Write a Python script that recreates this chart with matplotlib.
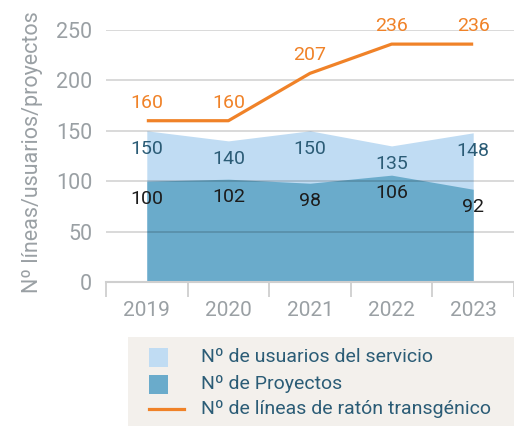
import matplotlib
matplotlib.use("Agg")
import matplotlib.pyplot as plt
from matplotlib.patches import Rectangle
from matplotlib.lines import Line2D
import numpy as np

years = ["2019", "2020", "2021", "2022", "2023"]
usuarios = [150, 140, 150, 135, 148]
proyectos = [100, 102, 98, 106, 92]
lineas = [160, 160, 207, 236, 236]

legend_labels = [
    "Nº de usuarios del servicio",
    "Nº de Proyectos",
    "Nº de líneas de ratón transgénico",
]

c_light = "#c0dcf3"
c_dark = "#6aabcb"
c_orange = "#f08228"
c_gray = "#9aa0a4"
c_teal = "#2b5c76"

plt.rcParams["font.family"] = ["Roboto", "DejaVu Sans"]

fig = plt.figure(figsize=(5.14, 4.26), dpi=100)
ax = fig.add_axes([106 / 514, 144 / 426, 408 / 514, 252 / 426])

x = np.arange(len(years))

ax.fill_between(x, 0, usuarios, color=c_light, lw=0, zorder=1)
ax.fill_between(x, 0, proyectos, color=c_dark, lw=0, zorder=2)
ax.plot(x, lineas, color=c_orange, lw=2.3, zorder=4, solid_capstyle="butt")

# horizontal grid on top of the areas, a little see-through
for v in [50, 100, 150, 200, 250]:
    ax.axhline(v, color="black", alpha=0.16, lw=1.3, zorder=3)

for i in range(len(years)):
    ax.annotate(str(lineas[i]), (x[i], lineas[i]), xytext=(0, 13),
                textcoords="offset points", ha="center", va="center",
                color=c_orange, fontsize=14, annotation_clip=False, zorder=5)
    ax.annotate(str(usuarios[i]), (x[i], usuarios[i]), xytext=(0, -13),
                textcoords="offset points", ha="center", va="center",
                color=c_teal, fontsize=14, zorder=5)
    ax.annotate(str(proyectos[i]), (x[i], proyectos[i]), xytext=(0, -13),
                textcoords="offset points", ha="center", va="center",
                color="#1c1c1c", fontsize=14, zorder=5)

ax.set_xlim(-0.5, 4.357)
ax.set_ylim(0, 250)

ax.set_yticks([0, 50, 100, 150, 200, 250])
ax.tick_params(axis="y", length=0, pad=10, labelsize=15.5, labelcolor=c_gray)

ax.set_xticks(x, labels=years)
ax.set_xticks(np.arange(-0.5, 4.6, 1), minor=True)
ax.tick_params(axis="x", which="major", length=0, pad=14, labelsize=15,
               labelcolor=c_gray)
ax.tick_params(axis="x", which="minor", length=11, width=1.3, color="#cfcfcf")

for s in ["top", "right", "left"]:
    ax.spines[s].set_visible(False)
ax.spines["bottom"].set_color("#cfcfcf")
ax.spines["bottom"].set_linewidth(1.5)
ax.spines["bottom"].set_zorder(6)

fig.text(33 / 514, 1 - 152 / 426, "Nº líneas/usuarios/proyectos", rotation=90,
         ha="center", va="center", color=c_gray, fontsize=15.5)

# legend panel
fig.patches.append(Rectangle((128 / 514, 0), 386 / 514, 89 / 426,
                             transform=fig.transFigure, facecolor="#f3f0ec",
                             edgecolor="none", zorder=0))
rows_y = [1 - 357 / 426, 1 - 384 / 426, 1 - 409 / 426]
for yy, col in zip(rows_y[:2], [c_light, c_dark]):
    fig.patches.append(Rectangle((149 / 514, yy - 9.5 / 426), 19 / 514, 19 / 426,
                                 transform=fig.transFigure, facecolor=col,
                                 edgecolor="none", zorder=1))
fig.lines.append(Line2D([149 / 514, 184 / 514], [rows_y[2], rows_y[2]],
                        transform=fig.transFigure, color=c_orange, lw=2.3))
for yy, lab in zip(rows_y, legend_labels):
    fig.text(201 / 514, yy, lab, ha="left", va="center", color=c_teal,
             fontsize=14)

fig.savefig("out.png", dpi=100)
